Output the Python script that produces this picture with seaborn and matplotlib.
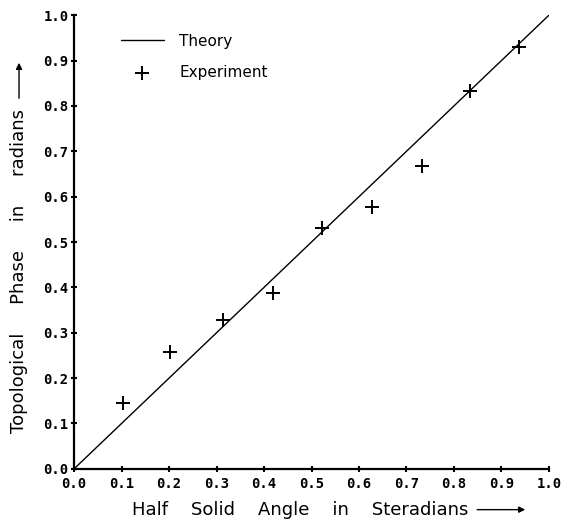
import matplotlib
matplotlib.use("Agg")
import matplotlib.pyplot as plt
import seaborn as sns
import pandas as pd

# values
half_solid_angle = [0.103, 0.202, 0.314, 0.419, 0.522, 0.627, 0.733, 0.834, 0.937]
topological_phase = [0.145, 0.258, 0.328, 0.388, 0.531, 0.577, 0.667, 0.833, 0.930]
theory_x = [0.0, 1.0]
theory_y = [0.0, 1.0]
tick_values = [0.0, 0.1, 0.2, 0.3, 0.4, 0.5, 0.6, 0.7, 0.8, 0.9, 1.0]
tick_labels = ['%.1f' % v for v in tick_values]

sns.set_style('ticks')
plt.rcParams['font.family'] = ['DejaVu Sans']
plt.rcParams['text.color'] = 'black'
plt.rcParams['axes.labelcolor'] = 'black'

exp_df = pd.DataFrame({'x': half_solid_angle, 'y': topological_phase})
theory_df = pd.DataFrame({'x': theory_x, 'y': theory_y})

W, H = 570, 525
fig = plt.figure(figsize=(W / 100, H / 100), dpi=100)
ax = fig.add_axes([0.130, 0.107, 0.833, 0.864])

sns.lineplot(theory_df, x='x', y='y', color='black', linewidth=1.0, ax=ax, label='Theory')
sns.scatterplot(exp_df, x='x', y='y', marker='+', s=110, linewidth=1.4, color='black',
                ax=ax, label='Experiment')

ax.set_xlim(0, 1.0)
ax.set_ylim(0, 1.0)
ax.set_xticks(tick_values)
ax.set_yticks(tick_values)
tick_font = dict(fontweight='bold', fontsize=10, family='DejaVu Sans Mono')
ax.set_xticklabels(tick_labels, **tick_font)
ax.set_yticklabels(tick_labels, **tick_font)
ax.tick_params(axis='both', direction='inout', length=4, width=1.5, colors='black')
ax.tick_params(axis='x', pad=4)
ax.tick_params(axis='y', pad=2)
for side in ['top', 'right']:
    ax.spines[side].set_visible(False)
for side in ['left', 'bottom']:
    ax.spines[side].set_linewidth(1.6)
    ax.spines[side].set_color('black')

# axis labels, placed by hand, with drawn arrows after them
ax.set_xlabel('Half    Solid    Angle    in    Steradians', fontsize=13)
ax.xaxis.label.set_horizontalalignment('left')
ax.xaxis.label.set_verticalalignment('center')
ax.xaxis.set_label_coords(0.122, -0.09)

ax.set_ylabel('Topological     Phase     in     radians', fontsize=13)
ax.yaxis.label.set_rotation_mode('anchor')
ax.yaxis.label.set_horizontalalignment('left')
ax.yaxis.label.set_verticalalignment('center')
ax.yaxis.set_label_coords(-0.116, 0.079)

leg = ax.legend(loc='upper left', bbox_to_anchor=(0.07, 0.99), frameon=False,
                fontsize=11, handlelength=2.8, handletextpad=1.0, labelspacing=1.1)

fig.canvas.draw()
xb = ax.xaxis.label.get_window_extent()
yb = ax.yaxis.label.get_window_extent()
arrow = dict(arrowstyle='-|>', color='black', lw=1.0, mutation_scale=9)
ymid = (xb.y0 + xb.y1) / 2
ax.annotate('', xy=(528, ymid), xytext=(xb.x1 + 6, ymid),
            xycoords='figure pixels', textcoords='figure pixels', arrowprops=arrow)
xmid = (yb.x0 + yb.x1) / 2
ax.annotate('', xy=(xmid, H - 60), xytext=(xmid, yb.y1 + 8),
            xycoords='figure pixels', textcoords='figure pixels', arrowprops=arrow)

fig.savefig('out.png', dpi=100)
